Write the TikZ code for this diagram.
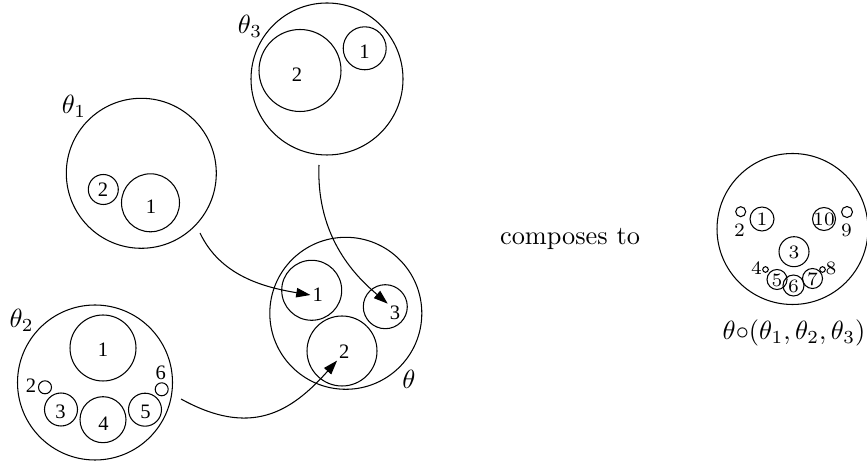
\documentclass[tikz,border=0pt]{standalone}
\usepackage{fontspec}
\newfontfamily\timesf{Liberation Serif}
\usetikzlibrary{arrows.meta}
\tikzset{
  ring/.style={circle, draw, inner sep=0pt, minimum size={0.76pt*#1}},
  dig/.style={font=\timesf\fontsize{7.8}{8}\selectfont, inner sep=0.6pt},
  cdig/.style={font=\fontsize{7.2}{8}\selectfont, inner sep=0.4pt},
  tlab/.style={font=\fontsize{10}{12}\selectfont, inner sep=0pt},
  conn/.style={-{Triangle[length=5.4pt,width=3.6pt]}, line width=0.4pt}
}
\begin{document}
\begin{tikzpicture}[x=0.38pt, y=-0.38pt, line width=0.4pt]
\useasboundingbox (0,0) rectangle (867,464);

% theta_3
\node[ring=76] (t3) at (327,79) {};
\node[ring=41] (t3c2) at (300,70.5) {};
\node[ring=21.5] (t3c1) at (364.7,48.3) {};
\node[dig] (t3l2) at (297,75) {2};
\node[dig] (t3l1) at (364.5,51.5) {1};
\node[tlab] (t3name) at (250,26) {$\theta_3$};

% theta_1
\node[ring=75] (t1) at (141.3,173.3) {};
\node[ring=15] (t1c2) at (103.3,189.5) {};
\node[ring=29] (t1c1) at (150.5,202.8) {};
\node[dig] (t1l2) at (103,190) {2};
\node[dig] (t1l1) at (151,206.5) {1};
\node[tlab] (t1name) at (74,106) {$\theta_1$};

% theta_2
\node[ring=77.5] (t2) at (95,382.5) {};
\node[ring=33] (t2c1) at (103,348) {};
\node[ring=6.5] (t2c2) at (45,387.3) {};
\node[ring=16.5] (t2c3) at (61,409.5) {};
\node[ring=23] (t2c4) at (103,419.7) {};
\node[ring=16.5] (t2c5) at (145,409.7) {};
\node[ring=6.5] (t2c6) at (161.7,389.3) {};
\node[dig] (t2l1) at (103,350) {1};
\node[dig] (t2l2) at (31,386) {2};
\node[dig] (t2l3) at (60.5,412) {3};
\node[dig] (t2l4) at (103.5,424) {4};
\node[dig] (t2l5) at (145.5,412) {5};
\node[dig] (t2l6) at (160.7,373.3) {6};
\node[tlab] (t2name) at (21.7,320) {$\theta_2$};

% theta
\node[ring=76] (t) at (345.8,313.3) {};
\node[ring=30] (tc1) at (311.7,290.3) {};
\node[ring=35] (tc2) at (342,351) {};
\node[ring=22] (tc3) at (385.3,306.7) {};
\node[dig] (tl1) at (317.7,295) {1};
\node[dig] (tl2) at (344.3,351.7) {2};
\node[dig] (tl3) at (395,312.7) {3};
\node[tlab] (tname) at (409,379) {$\theta$};

% connectors
\coordinate (s1) at (200,233);
\coordinate (s2) at (181,399);
\coordinate (s3) at (319,165);
\draw[conn] (s1) .. controls (220,275) and (262,287) .. (tl1.west);
\draw[conn] (s2) .. controls (250.6,437.4) and (290.8,412.5) .. (tl2.south west);
\draw[conn] (s3) .. controls (316,240) and (359,279) .. (tl3.north west);

% composes to
\node[font=\fontsize{10}{12}\selectfont, inner sep=0pt] (comp) at (570,239) {composes to};

% composite
\node[ring=75.5] (r) at (792.5,229) {};
\node[ring=5] (rc2) at (740.7,211.7) {};
\node[ring=12] (rc1) at (762,219) {};
\node[ring=11.5] (rc10) at (824,219) {};
\node[ring=5.5] (rc9) at (847,212) {};
\node[ring=15] (rc3) at (794,251.7) {};
\node[ring=2.8] (rc4) at (765.5,269.5) {};
\node[ring=10] (rc5) at (777,279.5) {};
\node[ring=10.5] (rc6) at (793.5,285.5) {};
\node[ring=10] (rc7) at (812.5,278.5) {};
\node[ring=2.8] (rc8) at (822.5,269.5) {};
\node[cdig] (rl1) at (762,219.5) {1};
\node[cdig] (rl10) at (824,219.5) {10};
\node[cdig] (rl2) at (739.5,230) {2};
\node[cdig] (rl9) at (846.5,230) {9};
\node[cdig] (rl3) at (794,252) {3};
\node[cdig] (rl4) at (756.5,268.5) {4};
\node[cdig] (rl5) at (777,280) {5};
\node[cdig] (rl6) at (793.5,286) {6};
\node[cdig] (rl7) at (812.5,279) {7};
\node[cdig] (rl8) at (831,268.5) {8};
\node[tlab] (rname) at (794,333) {$\theta{\circ}(\theta_1,\theta_2,\theta_3)$};
\end{tikzpicture}
\end{document}
